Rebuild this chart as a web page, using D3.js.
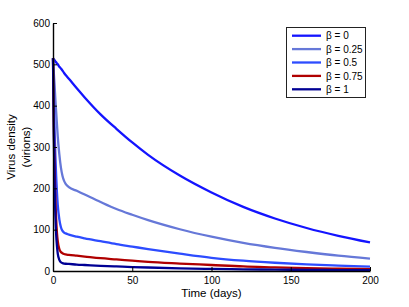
<!DOCTYPE html>
<html>
<head>
<meta charset="utf-8">
<script src="https://cdn.jsdelivr.net/npm/d3@7/dist/d3.min.js"></script>
<style>
  html, body { margin: 0; padding: 0; background: #fff; }
  svg { display: block; font-family: "Liberation Sans", Arial, sans-serif; }
</style>
</head>
<body>
<svg id="chart" width="409" height="307"></svg>
<script>
// ---- data ----
const days = [0, 0.5, 1, 1.5, 2, 2.5, 3, 4, 5, 6, 7, 8, 10, 15, 20, 30, 40, 50, 60, 80, 100, 120, 140, 160, 180, 200];
const beta0    = [515, 512, 510, 507, 505, 502, 500, 494, 490, 485, 479, 474, 465, 442, 420, 379, 344, 311, 281, 231, 190, 155, 127, 104, 85, 69];
const beta025  = [515, 480, 450, 415, 385, 355, 325, 282, 250, 230, 218, 211, 203, 194, 185, 167, 150, 136, 123, 101, 83, 68, 56, 46, 37, 30];
const beta05   = [515, 420, 340, 278, 230, 190, 160, 125, 106, 97, 93, 91, 88, 83, 79, 72, 65, 59, 53, 42, 32, 25, 20, 16, 13, 10.5];
const beta075  = [515, 360, 250, 175, 125, 92, 72, 53, 46, 43, 41, 40, 39, 37, 35, 31, 28, 25, 22, 18, 14.5, 11, 9, 7, 5.5, 4.5];
const beta1    = [515, 330, 210, 135, 88, 60, 42, 27, 21, 19, 18, 17.5, 17, 15.5, 14.5, 12.5, 11, 9.5, 8.5, 6.5, 5, 4, 3.3, 2.8, 2.3, 2];
const seriesNames = ["β = 0", "β = 0.25", "β = 0.5", "β = 0.75", "β = 1"];
const seriesValues = [beta0, beta025, beta05, beta075, beta1];
const xTicks = [0, 50, 100, 150, 200];
const yTicks = [0, 100, 200, 300, 400, 500, 600];

// ---- styles ----
const colors = ["#1414ff", "#6678d8", "#2d4cff", "#b00000", "#000094"];

const svg = d3.select("#chart");
const mLeft = 53, mRight = 370, mTop = 23, mBottom = 271;

const x = d3.scaleLinear().domain([0, 200]).range([mLeft, mRight]);
const y = d3.scaleLinear().domain([0, 600]).range([mBottom, mTop]);

// lines
const line = d3.line()
  .x(d => x(d[0]))
  .y(d => y(d[1]))
  .curve(d3.curveMonotoneX);

seriesValues.forEach((vals, i) => {
  svg.append("path")
    .datum(days.map((t, j) => [t, vals[j]]))
    .attr("fill", "none")
    .attr("stroke", colors[i])
    .attr("stroke-width", 2.3)
    .attr("stroke-linejoin", "round")
    .attr("d", line);
});

// axes (ticks pointing inward)
const xAxis = d3.axisBottom(x).tickValues(xTicks).tickSizeInner(-4).tickSizeOuter(0).tickPadding(6);
const yAxis = d3.axisLeft(y).tickValues(yTicks).tickSizeInner(-4).tickSizeOuter(0).tickPadding(3);

const gx = svg.append("g").attr("transform", `translate(0,${mBottom})`).call(xAxis);
const gy = svg.append("g").attr("transform", `translate(${mLeft},0)`).call(yAxis);
[gx, gy].forEach(g => {
  g.select(".domain").attr("stroke", "#000").attr("stroke-width", 1.4);
  g.selectAll(".tick line").attr("stroke", "#000").attr("stroke-width", 1);
  g.selectAll(".tick text").attr("fill", "#000").style("font-size", "10px")
    .style("font-family", '"Liberation Sans", Arial, sans-serif');
});

// axis titles
svg.append("text")
  .attr("x", (mLeft + mRight) / 2).attr("y", 297)
  .attr("text-anchor", "middle")
  .style("font-size", "11.5px")
  .text("Time (days)");

const yl = svg.append("text")
  .attr("transform", `translate(15,${(mTop + mBottom) / 2}) rotate(-90)`)
  .attr("text-anchor", "middle")
  .style("font-size", "11.5px");
yl.append("tspan").attr("x", 0).attr("dy", 0).text("Virus density");
yl.append("tspan").attr("x", 0).attr("dy", 15).text("(virions)");

// legend
const lg = svg.append("g");
lg.append("rect")
  .attr("x", 286.5).attr("y", 27.5).attr("width", 79).attr("height", 70)
  .attr("fill", "#fff").attr("stroke", "#222").attr("stroke-width", 1);
seriesNames.forEach((name, i) => {
  const yy = 35.7 + i * 13.4;
  lg.append("line")
    .attr("x1", 292).attr("x2", 321).attr("y1", yy).attr("y2", yy)
    .attr("stroke", colors[i]).attr("stroke-width", 2.3);
  lg.append("text")
    .attr("x", 326).attr("y", yy + 3.6)
    .style("font-size", "10px")
    .text(name);
});
</script>
</body>
</html>
